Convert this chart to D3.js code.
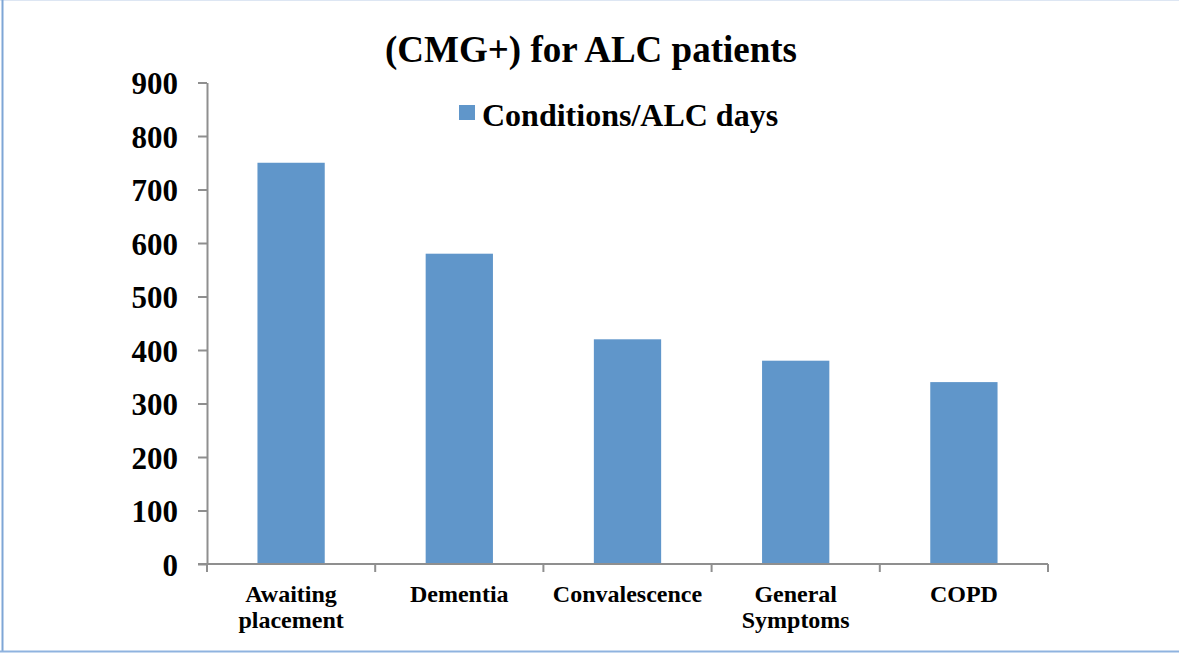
<!DOCTYPE html>
<html>
<head>
<meta charset="utf-8">
<script src="https://cdn.jsdelivr.net/npm/d3@7"></script>
<style>
  html, body { margin: 0; padding: 0; background: #fff; }
  svg { display: block; font-family: "Liberation Serif", "Times New Roman", serif; font-weight: bold; }
</style>
</head>
<body>
<svg id="chart" width="1179" height="653"></svg>
<script>
// ------------------------------------
// Data
// ------------------------------------
const categories = ["Awaiting placement", "Dementia", "Convalescence", "General Symptoms", "COPD"];
const alcDays = [750, 580, 420, 380, 340];
const yTicks = [0, 100, 200, 300, 400, 500, 600, 700, 800, 900];
const seriesName = "Conditions/ALC days";
const chartTitle = "(CMG+) for ALC patients";

const barColor = "#6096ca";
const axisColor = "#8f8f8f";

const svg = d3.select("#chart");
const margin = { top: 82.5, right: 131, bottom: 89, left: 207 };
const width = 1179, height = 653;
const innerWidth = width - margin.left - margin.right;
const innerHeight = height - margin.top - margin.bottom;

// frame
svg.append("line").attr("x1", 0).attr("x2", width).attr("y1", 0.5).attr("y2", 0.5)
  .attr("stroke", "#dde6f3").attr("stroke-width", 1);
svg.append("line").attr("x1", 2.5).attr("x2", 2.5).attr("y1", 0).attr("y2", 652)
  .attr("stroke", "#7ea6d6").attr("stroke-width", 2);
svg.append("line").attr("x1", 0).attr("x2", width).attr("y1", 651.5).attr("y2", 651.5)
  .attr("stroke", "#8fb3df").attr("stroke-width", 2);

const g = svg.append("g")
  .attr("transform", `translate(${margin.left},${margin.top})`);

const x = d3.scaleBand()
  .domain(categories)
  .range([0, innerWidth])
  .paddingInner(0.6)
  .paddingOuter(0.3);

const y = d3.scaleLinear()
  .domain([0, 900])
  .range([innerHeight, 0]);

// bars
g.selectAll(".bar")
  .data(categories.map((c, i) => ({ cat: c, val: alcDays[i] })))
  .join("rect")
  .attr("class", "bar")
  .attr("x", d => x(d.cat))
  .attr("width", x.bandwidth())
  .attr("y", d => y(d.val))
  .attr("height", d => innerHeight - y(d.val))
  .attr("fill", barColor);

// y axis
const yAxis = g.append("g")
  .call(d3.axisLeft(y).tickValues(yTicks).tickSize(9).tickSizeOuter(0).tickPadding(20));
yAxis.select(".domain").attr("stroke", axisColor).attr("stroke-width", 2);
yAxis.selectAll(".tick line").attr("stroke", axisColor).attr("stroke-width", 2);
yAxis.selectAll(".tick text")
  .attr("fill", "#000")
  .attr("font-size", 31)
  .attr("font-family", "Liberation Serif, serif")
  .attr("font-weight", "bold")
  .attr("dy", "0.36em");

// x axis line and category boundary ticks
g.append("line")
  .attr("x1", -9).attr("x2", innerWidth)
  .attr("y1", innerHeight).attr("y2", innerHeight)
  .attr("stroke", axisColor).attr("stroke-width", 2);

const step = x.step();
const bounds = d3.range(categories.length + 1).map(i => i * step);
g.selectAll(".xtick")
  .data(bounds)
  .join("line")
  .attr("class", "xtick")
  .attr("x1", d => d).attr("x2", d => d)
  .attr("y1", innerHeight).attr("y2", innerHeight + 8)
  .attr("stroke", axisColor).attr("stroke-width", 2);

// category labels (wrapped on spaces, one text per line)
const labelLines = [];
categories.forEach(c => {
  c.split(" ").forEach((w, i) => labelLines.push({ cat: c, word: w, line: i }));
});

g.selectAll(".xlabel")
  .data(labelLines)
  .join("text")
  .attr("class", "xlabel")
  .attr("text-anchor", "middle")
  .attr("font-size", 24)
  .attr("fill", "#000")
  .attr("x", d => x(d.cat) + x.bandwidth() / 2)
  .attr("y", d => innerHeight + 38 + d.line * 26)
  .text(d => d.word);

// title
svg.append("text")
  .attr("x", 591)
  .attr("y", 62)
  .attr("text-anchor", "middle")
  .attr("font-size", 37)
  .attr("fill", "#000")
  .text(chartTitle);

// legend
const legend = svg.append("g").attr("transform", "translate(459,105)");
legend.append("rect").attr("width", 16).attr("height", 15).attr("fill", barColor);
legend.append("text").attr("x", 23).attr("y", 21).attr("font-size", 32).attr("fill", "#000").text(seriesName);
</script>
</body>
</html>
